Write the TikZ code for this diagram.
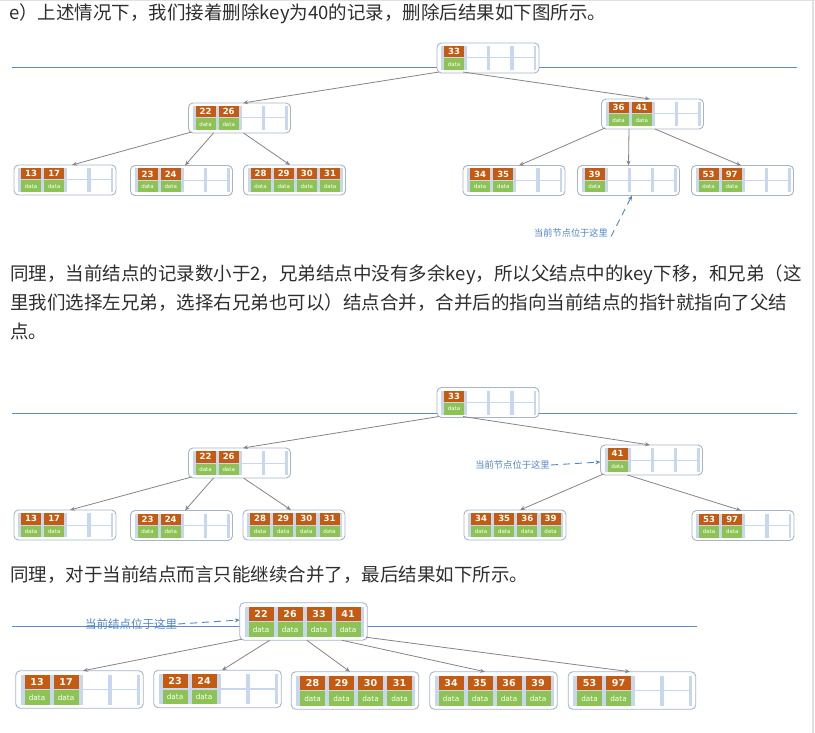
\documentclass[tikz,border=0pt]{standalone}
\usepackage{fontspec}
\newfontfamily\cjk{Noto Sans CJK SC}
\newfontfamily\numf{DejaVu Sans}
\usetikzlibrary{arrows.meta}
\definecolor{keyor}{HTML}{C55A11}
\definecolor{datagr}{HTML}{8DC255}
\definecolor{slotbg}{HTML}{C6D7EF}
\definecolor{nodeborder}{HTML}{A8B4C8}
\definecolor{edgegray}{HTML}{858585}
\definecolor{lineblue}{HTML}{5B8CC8}
\definecolor{labblue}{HTML}{4F86C6}
\definecolor{txtgray}{HTML}{2E2E2E}
\tikzset{
  nodebox/.style={draw=nodeborder, line width=0.9pt, fill=white, rounded corners=4.5pt, inner sep=0pt, outer sep=0pt},
  cellk/.style={fill=keyor, text=white, inner sep=0pt, outer sep=0pt},
  celld/.style={fill=datagr, text=white, inner sep=0pt, outer sep=0pt},
  celle/.style={fill=white, inner sep=0pt, outer sep=0pt},
  edge/.style={draw=edgegray, line width=0.8pt, -{Stealth[length=5pt,width=4pt]}},
  sepline/.style={draw=lineblue, line width=0.9pt},
  dasharrow/.style={draw=labblue, line width=0.9pt, dash pattern=on 7pt off 5pt, -{Stealth[length=5pt,width=4pt]}},
  txt/.style={anchor=west, inner sep=0pt, text=txtgray, font=\cjk\fontsize{18.5}{22}\selectfont},
  lab/.style={inner sep=0pt, text=labblue},
}
% name, cx, cy, scale, four keys (0 = empty)
\newcommand\btnode[5]{%
  \pgfmathsetmacro\bw{102*#4}%
  \pgfmathsetmacro\bh{30*#4}%
  \pgfmathsetmacro\bx{#2-51*#4}%
  \pgfmathsetmacro\by{#3-15*#4}%
  \pgfmathsetmacro\nfs{8.5+4*(#4-1)}%
  \pgfmathsetmacro\dfs{5.5+7.2*(#4-1)}%
  \pgfmathsetmacro\cw{20*#4}%
  \pgfmathsetmacro\ch{11.5*#4}%
  \node[nodebox, minimum width=\bw, minimum height=\bh] (#1) at (#2,#3) {};
  \fill[slotbg] (\bx+4*#4, \by+3*#4) rectangle (\bx+99*#4, \by+27*#4);
  \foreach \k [count=\i from 0] in {#5} {%
    \pgfmathsetmacro\sx{\bx+17*#4+\i*23.2*#4}%
    \ifnum\k=0
      \node[celle, minimum width=\cw, minimum height=\ch] (#1k\i) at (\sx, \by+8.75*#4) {};
      \node[celle, minimum width=\cw, minimum height=\ch] (#1d\i) at (\sx, \by+21.25*#4) {};
    \else
      \node[cellk, minimum width=\cw, minimum height=\ch, font=\numf\bfseries\fontsize{\nfs}{\nfs}\selectfont] (#1k\i) at (\sx, \by+8.75*#4) {\k};
      \node[celld, minimum width=\cw, minimum height=\ch, font=\numf\fontsize{\dfs}{\dfs}\selectfont] (#1d\i) at (\sx, \by+21.25*#4) {data};
    \fi
  }%
}
\begin{document}
\begin{tikzpicture}[x=1pt,y=-1pt]
\useasboundingbox (0,0) rectangle (815,733);
\fill[white] (0,0) rectangle (815,733);
\draw[black!12, line width=1.5pt] (0,0.75) -- (815,0.75);
\draw[black!12, line width=2pt] (813,0) -- (813,733);

% texts
\node[txt] (t1) at (9,14) {e）上述情况下，我们接着删除key为40的记录，删除后结果如下图所示。};
\node[txt] (t2) at (10,275) {同理，当前结点的记录数小于2，兄弟结点中没有多余key，所以父结点中的key下移，和兄弟（这};
\node[txt] (t3) at (10,303) {里我们选择左兄弟，选择右兄弟也可以）结点合并，合并后的指向当前结点的指针就指向了父结};
\node[txt] (t4) at (10,331) {点。};
\node[txt] (t5) at (10,575) {同理，对于当前结点而言只能继续合并了，最后结果如下所示。};

% ---------- diagram 1
\draw[sepline] (12,67) -- (797,67);
\btnode{r1}{488}{58}{1}{33,0,0,0}
\btnode{a1}{239.5}{118}{1}{22,26,0,0}
\btnode{b1}{652.5}{114}{1}{36,41,0,0}
\btnode{c11}{65}{180}{1}{13,17,0,0}
\btnode{c12}{181.5}{180.5}{1}{23,24,0,0}
\btnode{c13}{294.5}{180}{1}{28,29,30,31}
\btnode{c14}{514}{180.5}{1}{34,35,0,0}
\btnode{c15}{628.5}{180.5}{1}{39,0,0,0}
\btnode{c16}{742.5}{180.5}{1}{53,97,0,0}
\draw[edge] ([xshift=2pt,yshift=1pt]r1.south west) -- ([xshift=3.5pt]a1.north);
\draw[edge] ([xshift=26pt,yshift=1pt]r1.south west) -- ([xshift=-2.5pt]b1.north);
\draw[edge] ([xshift=3pt,yshift=1pt]a1.south west) -- ([xshift=7pt]c11.north);
\draw[edge] ([xshift=25pt]a1.south west) -- ([xshift=3.5pt]c12.north);
\draw[edge] ([xshift=55pt]a1.south west) -- ([xshift=-4.5pt]c13.north);
\draw[edge] ([xshift=3.5pt,yshift=1pt]b1.south west) -- ([xshift=5pt]c14.north);
\draw[edge] ([xshift=27.5pt]b1.south west) -- (c15.north);
\draw[edge] ([xshift=53.5pt]b1.south west) -- ([xshift=-1.5pt]c16.north);
\node[lab, font=\cjk\fontsize{9.2}{10}\selectfont] (n1) at (571,233) {当前节点位于这里};
\draw[dasharrow] ([xshift=3pt,yshift=1pt]n1.south east) -- ([xshift=3.5pt]c15.south);

% ---------- diagram 2
\draw[sepline] (12,413) -- (797,413);
\btnode{r2}{488}{402.5}{1}{33,0,0,0}
\btnode{a2}{239.5}{463}{1}{22,26,0,0}
\btnode{b2}{651.5}{460}{1}{41,0,0,0}
\btnode{c21}{65}{525}{1}{13,17,0,0}
\btnode{c22}{181.5}{525.5}{1}{23,24,0,0}
\btnode{c23}{294}{525}{1}{28,29,30,31}
\btnode{c24}{515}{525}{1}{34,35,36,39}
\btnode{c25}{743}{525.5}{1}{53,97,0,0}
\draw[edge] ([xshift=2pt,yshift=1pt]r2.south west) -- ([xshift=3.5pt]a2.north);
\draw[edge] ([xshift=26pt,yshift=1pt]r2.south west) -- ([xshift=-1.5pt]b2.north);
\draw[edge] ([xshift=3pt,yshift=1pt]a2.south west) -- ([xshift=5pt]c21.north);
\draw[edge] ([xshift=25pt]a2.south west) -- ([xshift=3.5pt]c22.north);
\draw[edge] ([xshift=55pt]a2.south west) -- ([xshift=-3pt]c23.north);
\draw[edge] ([xshift=3pt,yshift=1pt]b2.south west) -- ([xshift=5pt]c24.north);
\draw[edge] ([xshift=27pt]b2.south west) -- ([xshift=-2pt]c25.north);
\node[lab, font=\cjk\fontsize{9.3}{10}\selectfont] (n2) at (512.5,465) {当前节点位于这里};
\draw[dasharrow] ([xshift=1pt]n2.east) -- ([yshift=-2pt]b2.west);

% ---------- diagram 3
\draw[sepline] (12,626) -- (697,626);
\btnode{r3}{303.5}{621.5}{1.25}{22,26,33,41}
\btnode{c31}{79.5}{689.5}{1.25}{13,17,0,0}
\btnode{c32}{217.5}{689}{1.25}{23,24,0,0}
\btnode{c33}{355}{690.5}{1.25}{28,29,30,31}
\btnode{c34}{493.5}{690.5}{1.25}{34,35,36,39}
\btnode{c35}{632}{690.5}{1.25}{53,97,0,0}
\draw[edge] ([xshift=2pt,yshift=1pt]r3.south west) -- ([xshift=3.5pt]c31.north);
\draw[edge] ([xshift=30pt]r3.south west) -- ([xshift=4.5pt]c32.north);
\draw[edge] ([xshift=67pt]r3.south west) -- ([xshift=-5pt]c33.north);
\draw[edge] ([xshift=102pt]r3.south west) -- ([xshift=-8.5pt]c34.north);
\draw[edge] ([xshift=-1pt,yshift=3pt]r3.south east) -- ([xshift=-2pt]c35.north);
\node[lab, font=\cjk\fontsize{11.5}{12}\selectfont] (n3) at (131,624) {当前结点位于这里};
\draw[dasharrow] ([xshift=1pt]n3.east) -- ([yshift=1.5pt]r3.west);
\end{tikzpicture}
\end{document}
